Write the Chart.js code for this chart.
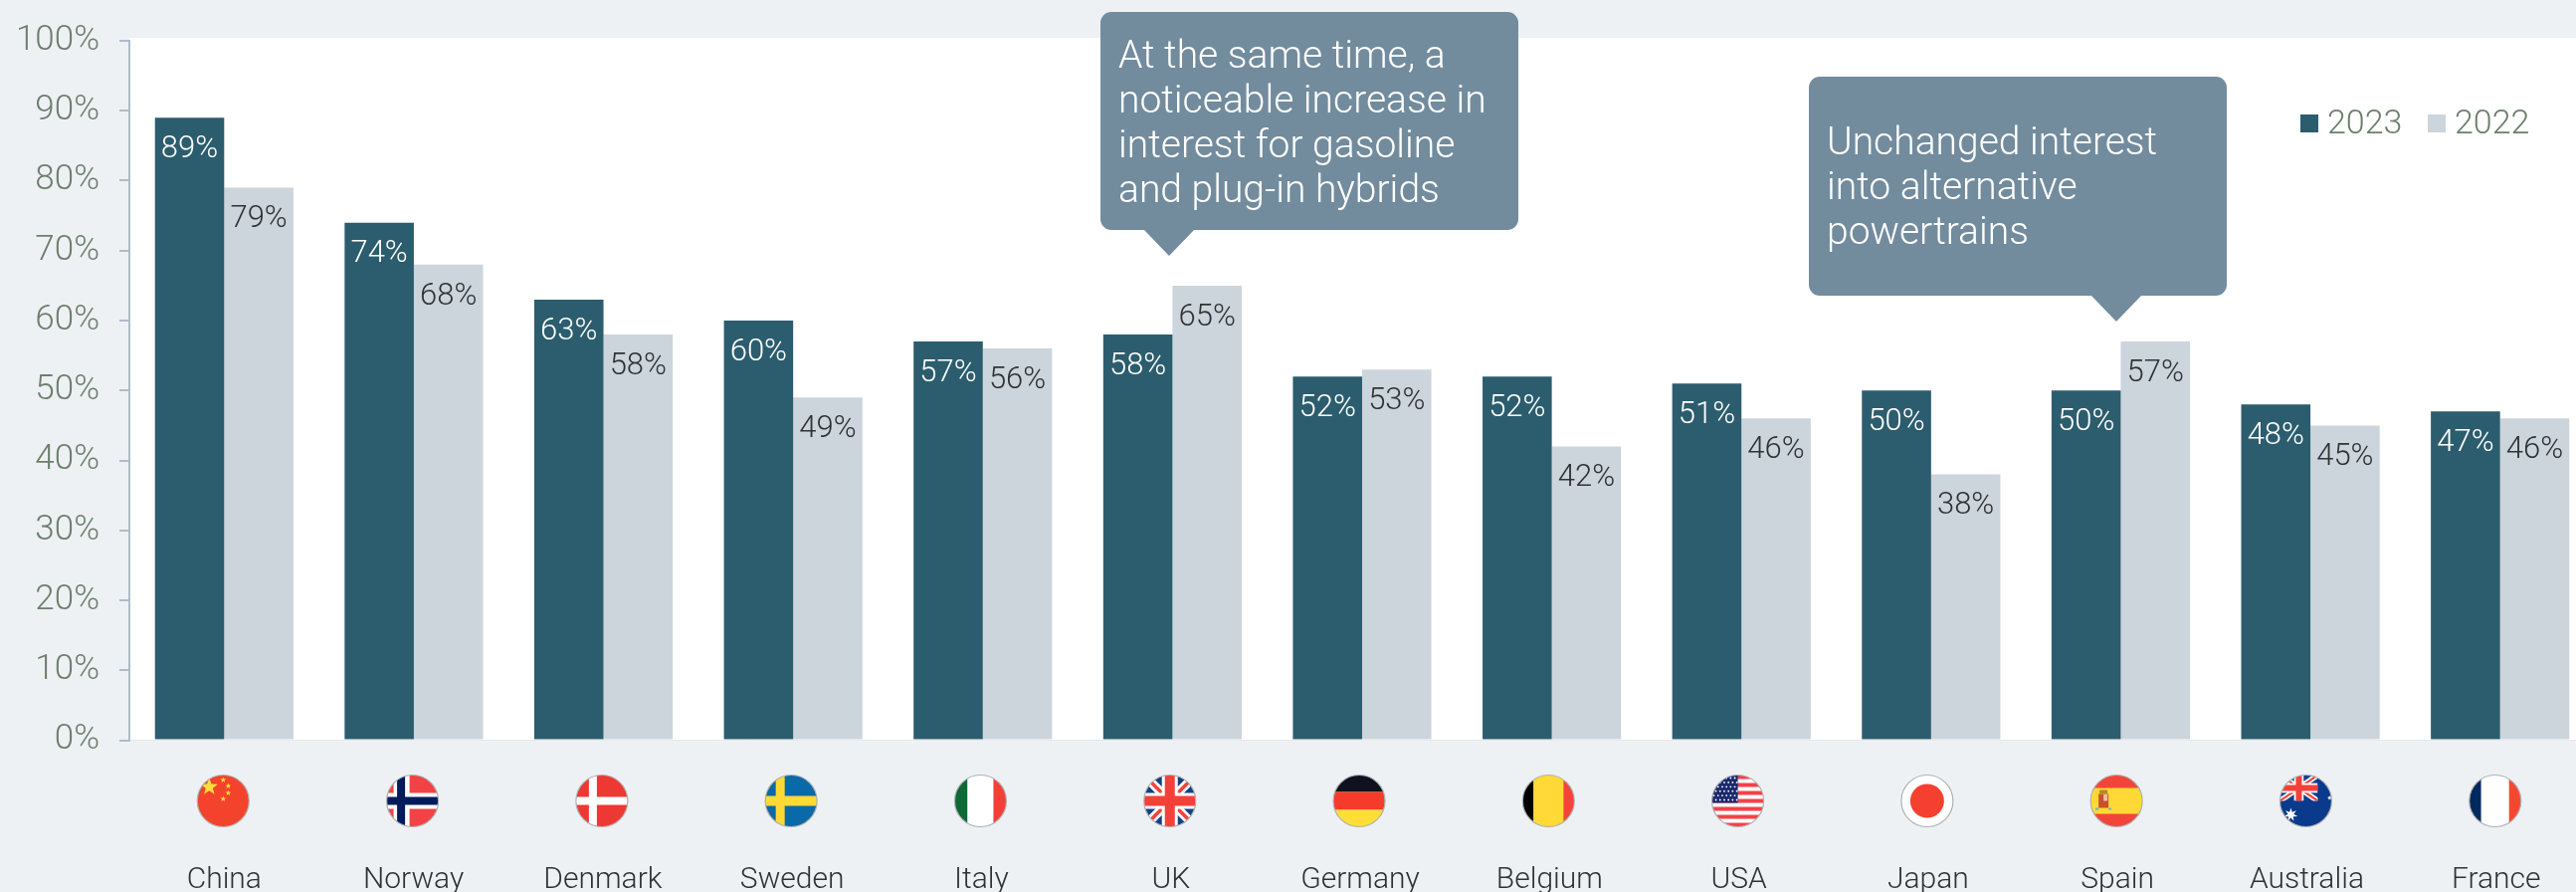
<!DOCTYPE html>
<html lang="en">
<head>
    <meta charset="UTF-8">
    <title>Interest in battery electric vehicles by country</title>
    <script src="https://cdn.jsdelivr.net/npm/chart.js"></script>
    <style>
        html, body { margin: 0; padding: 0; width: 2589px; height: 896px; overflow: hidden; background: #edf1f4; }
        canvas { display: block; }
    </style>
</head>
<body>
    <canvas id="interestChart" width="2608" height="896"></canvas>
    <script>
        const countries = ["China", "Norway", "Denmark", "Sweden", "Italy", "UK", "Germany", "Belgium", "USA", "Japan", "Spain", "Australia", "France"];
        const values2023 = [89, 74, 63, 60, 57, 58, 52, 52, 51, 50, 50, 48, 47];
        const values2022 = [79, 68, 58, 49, 56, 65, 53, 42, 46, 38, 57, 45, 46];
        const seriesNames = ["2023", "2022"];
        const yTicks = [0, 10, 20, 30, 40, 50, 60, 70, 80, 90, 100];

        const calloutIncrease = ["At the same time, a", "noticeable increase in", "interest for gasoline", "and plug-in hybrids"];
        const calloutUnchanged = ["Unchanged interest", "into alternative", "powertrains"];

        const FONT = '"Roboto", "Liberation Sans", sans-serif';
        const DARK_BAR = "#2b5d6e";
        const LIGHT_BAR = "#ccd4dc";
        const TICK_COLOR = "#6c7f6c";
        const LABEL_COLOR = "#2f3333";
        const CALLOUT_BG = "#728c9e";

        function rect(ctx, color, x, y, w, h) {
            ctx.fillStyle = color;
            ctx.fillRect(x, y, w, h);
        }

        function star(ctx, x, y, r, points, color) {
            ctx.fillStyle = color;
            ctx.beginPath();
            for (let i = 0; i < points * 2; i++) {
                const rad = i % 2 ? r * 0.42 : r;
                const a = -Math.PI / 2 + i * Math.PI / points;
                ctx.lineTo(x + rad * Math.cos(a), y + rad * Math.sin(a));
            }
            ctx.closePath();
            ctx.fill();
        }

        // union jack inside the given box
        function union(ctx, x, y, w, h, k) {
            ctx.save();
            ctx.beginPath();
            ctx.rect(x, y, w, h);
            ctx.clip();
            rect(ctx, "#123f88", x, y, w, h);
            ctx.lineCap = "butt";
            [[x, y, x + w, y + h], [x + w, y, x, y + h]].forEach(l => {
                ctx.strokeStyle = "#ffffff";
                ctx.lineWidth = 9 * k;
                ctx.beginPath();
                ctx.moveTo(l[0], l[1]);
                ctx.lineTo(l[2], l[3]);
                ctx.stroke();
                ctx.strokeStyle = "#f5403a";
                ctx.lineWidth = 3.5 * k;
                ctx.beginPath();
                ctx.moveTo(l[0], l[1]);
                ctx.lineTo(l[2], l[3]);
                ctx.stroke();
            });
            rect(ctx, "#ffffff", x + w / 2 - 8 * k, y, 16 * k, h);
            rect(ctx, "#ffffff", x, y + h / 2 - 8 * k, w, 16 * k);
            rect(ctx, "#f5403a", x + w / 2 - 5 * k, y, 10 * k, h);
            rect(ctx, "#f5403a", x, y + h / 2 - 5 * k, w, 10 * k);
            ctx.restore();
        }

        // each flag is painted around (0,0) and clipped to a circle of radius 26
        const flags = {
            China(ctx) {
                rect(ctx, "#f4432c", -26, -26, 52, 52);
                star(ctx, -14, -14, 9, 5, "#ffdc3c");
                [[0, -21], [5, -15], [5, -8], [0, -2]].forEach(p => star(ctx, p[0], p[1], 3, 5, "#ffdc3c"));
            },
            Norway(ctx) {
                rect(ctx, "#f24246", -26, -26, 52, 52);
                rect(ctx, "#ffffff", -19, -26, 16, 52);
                rect(ctx, "#ffffff", -26, -8, 52, 16);
                rect(ctx, "#001c5a", -15.5, -26, 8, 52);
                rect(ctx, "#001c5a", -26, -4, 52, 8);
            },
            Denmark(ctx) {
                rect(ctx, "#ee3833", -26, -26, 52, 52);
                rect(ctx, "#ffffff", -13, -26, 8, 52);
                rect(ctx, "#ffffff", -26, -4, 52, 8);
            },
            Sweden(ctx) {
                rect(ctx, "#0a69a8", -26, -26, 52, 52);
                rect(ctx, "#ffd935", -15.5, -26, 9, 52);
                rect(ctx, "#ffd935", -26, -5, 52, 10);
            },
            Italy(ctx) {
                rect(ctx, "#0b6a35", -26, -26, 13, 52);
                rect(ctx, "#ffffff", -13, -26, 26, 52);
                rect(ctx, "#f5403a", 13, -26, 13, 52);
            },
            UK(ctx) {
                union(ctx, -26, -26, 52, 52, 1);
            },
            Germany(ctx) {
                rect(ctx, "#0e111e", -26, -26, 52, 17);
                rect(ctx, "#f53c2a", -26, -9, 52, 18);
                rect(ctx, "#ffde35", -26, 9, 52, 17);
            },
            Belgium(ctx) {
                rect(ctx, "#000000", -26, -26, 11, 52);
                rect(ctx, "#ffd935", -15, -26, 30, 52);
                rect(ctx, "#f2453a", 15, -26, 11, 52);
            },
            USA(ctx) {
                rect(ctx, "#ffffff", -26, -26, 52, 52);
                for (let i = 0; i < 7; i++) rect(ctx, "#f5404a", -26, -26 + i * 8, 52, 4);
                rect(ctx, "#1a2a6c", -26, -26, 26, 28);
                ctx.fillStyle = "#ffffff";
                for (let row = 0; row < 6; row++) {
                    for (let col = 0; col < 6; col++) {
                        ctx.beginPath();
                        ctx.arc(-24 + col * 4.2 + (row % 2) * 2, -23 + row * 4.4, 0.9, 0, Math.PI * 2);
                        ctx.fill();
                    }
                }
            },
            Japan(ctx) {
                rect(ctx, "#ffffff", -26, -26, 52, 52);
                ctx.fillStyle = "#f54030";
                ctx.beginPath();
                ctx.arc(0, 0, 17, 0, Math.PI * 2);
                ctx.fill();
            },
            Spain(ctx) {
                rect(ctx, "#f2453a", -26, -26, 52, 52);
                rect(ctx, "#ffd935", -26, -13, 52, 26);
                rect(ctx, "#c8502a", -18, -7, 10, 14);
                rect(ctx, "#e8c0a0", -13, -7, 4, 7);
                rect(ctx, "#b8842a", -17, -11, 8, 4);
                rect(ctx, "#7aa8c8", -21, 7, 3, 2);
                rect(ctx, "#7aa8c8", -8, 7, 3, 2);
            },
            Australia(ctx) {
                rect(ctx, "#0a3a8c", -26, -26, 52, 52);
                union(ctx, -26, -26, 38, 26, 0.6);
                star(ctx, -15, 14, 7, 7, "#ffffff");
                star(ctx, 24, -3, 2.5, 7, "#ffffff");
            },
            France(ctx) {
                rect(ctx, "#002a5e", -26, -26, 12, 52);
                rect(ctx, "#ffffff", -14, -26, 28, 52);
                rect(ctx, "#f5472f", 14, -26, 12, 52);
            }
        };

        function drawCallout(ctx, box, lines) {
            ctx.fillStyle = CALLOUT_BG;
            ctx.beginPath();
            ctx.roundRect(box.x, box.y, box.w, box.h, 11);
            ctx.fill();
            ctx.beginPath();
            ctx.moveTo(box.tip[0] - box.tip[2], box.y + box.h - 1);
            ctx.lineTo(box.tip[0], box.tip[1]);
            ctx.lineTo(box.tip[0] + box.tip[2], box.y + box.h - 1);
            ctx.closePath();
            ctx.fill();
            ctx.fillStyle = "#ffffff";
            ctx.font = "300 39px " + FONT;
            ctx.textAlign = "left";
            ctx.textBaseline = "alphabetic";
            lines.forEach((line, i) => ctx.fillText(line, box.textX, box.baseline + i * 45));
        }

        const plotBackground = {
            id: "plotBackground",
            beforeDraw(chart) {
                const { ctx, chartArea } = chart;
                rect(ctx, "#edf1f4", 0, 0, chart.width, chart.height);
                rect(ctx, "#ffffff", chartArea.left, 38, chartArea.width, chartArea.bottom - 38);
            }
        };

        // percent labels sit just inside the top of each bar
        const barLabels = {
            id: "barLabels",
            afterDatasetsDraw(chart) {
                const { ctx } = chart;
                ctx.save();
                ctx.font = "300 31px " + FONT;
                ctx.textAlign = "center";
                ctx.textBaseline = "middle";
                chart.data.datasets.forEach((ds, d) => {
                    ctx.fillStyle = d === 0 ? "#ffffff" : LABEL_COLOR;
                    chart.getDatasetMeta(d).data.forEach((bar, i) => {
                        ctx.fillText(ds.data[i] + "%", bar.x, bar.y + 32);
                    });
                });
                ctx.restore();
            }
        };

        // flags and country names below the axis, plus legend and callouts
        const decorations = {
            id: "decorations",
            afterDraw(chart) {
                const { ctx } = chart;
                const x = chart.scales.x;
                ctx.save();
                countries.forEach((name, i) => {
                    const cx = x.getPixelForValue(i) - 1 - i * 0.33;
                    ctx.save();
                    ctx.translate(cx, 804.5);
                    ctx.save();
                    ctx.beginPath();
                    ctx.arc(0, 0, 26, 0, Math.PI * 2);
                    ctx.clip();
                    flags[name](ctx);
                    ctx.restore();
                    // the flag painters replace the current path, so the rim gets its own
                    ctx.beginPath();
                    ctx.arc(0, 0, 26, 0, Math.PI * 2);
                    ctx.strokeStyle = "#b0b0b0";
                    ctx.lineWidth = 1.2;
                    ctx.stroke();
                    ctx.restore();

                    ctx.fillStyle = LABEL_COLOR;
                    ctx.font = "300 30px " + FONT;
                    ctx.textAlign = "center";
                    ctx.textBaseline = "alphabetic";
                    ctx.fillText(name, x.getPixelForValue(i) - i * 0.33, 892);
                });

                // legend
                const legendX = [2312, 2440];
                chart.data.datasets.forEach((ds, d) => {
                    rect(ctx, ds.backgroundColor, legendX[d], 115, 18, 18);
                    ctx.fillStyle = TICK_COLOR;
                    ctx.font = "300 34px " + FONT;
                    ctx.textAlign = "left";
                    ctx.textBaseline = "alphabetic";
                    ctx.fillText(ds.label, legendX[d] + 27, 134);
                });

                drawCallout(ctx, { x: 1106, y: 12, w: 420, h: 219, tip: [1175, 257, 26], textX: 1124, baseline: 67.5 }, calloutIncrease);
                drawCallout(ctx, { x: 1818, y: 77, w: 420, h: 220, tip: [2127, 323, 26], textX: 1836, baseline: 155 }, calloutUnchanged);
                ctx.restore();
            }
        };

        new Chart(document.getElementById("interestChart"), {
            type: "bar",
            data: {
                labels: countries,
                datasets: [
                    { label: seriesNames[0], data: values2023, backgroundColor: DARK_BAR },
                    { label: seriesNames[1], data: values2022, backgroundColor: LIGHT_BAR }
                ]
            },
            options: {
                responsive: false,
                animation: false,
                layout: { padding: { top: 39, left: 0, right: 0, bottom: 0 } },
                datasets: { bar: { categoryPercentage: 0.73, barPercentage: 1 } },
                plugins: { legend: { display: false }, tooltip: { enabled: false } },
                scales: {
                    x: {
                        grid: { display: false },
                        border: { display: true, color: "#e6eaee", width: 1 },
                        ticks: { display: false },
                        afterFit(scale) { scale.height = 896 - 743.5; }
                    },
                    y: {
                        min: 0,
                        max: 100,
                        afterFit(scale) { scale.width = 130; },
                        afterBuildTicks(scale) { scale.ticks = yTicks.map(value => ({ value })); },
                        border: { display: true, color: "#aebcc8", width: 2 },
                        grid: { drawOnChartArea: false, drawTicks: true, tickLength: 10, color: "#aebcc8", lineWidth: 2 },
                        ticks: {
                            color: TICK_COLOR,
                            font: { family: FONT, size: 35, weight: "300" },
                            padding: 20,
                            callback: value => value + "%"
                        }
                    }
                }
            },
            plugins: [plotBackground, barLabels, decorations]
        });
    </script>
</body>
</html>
